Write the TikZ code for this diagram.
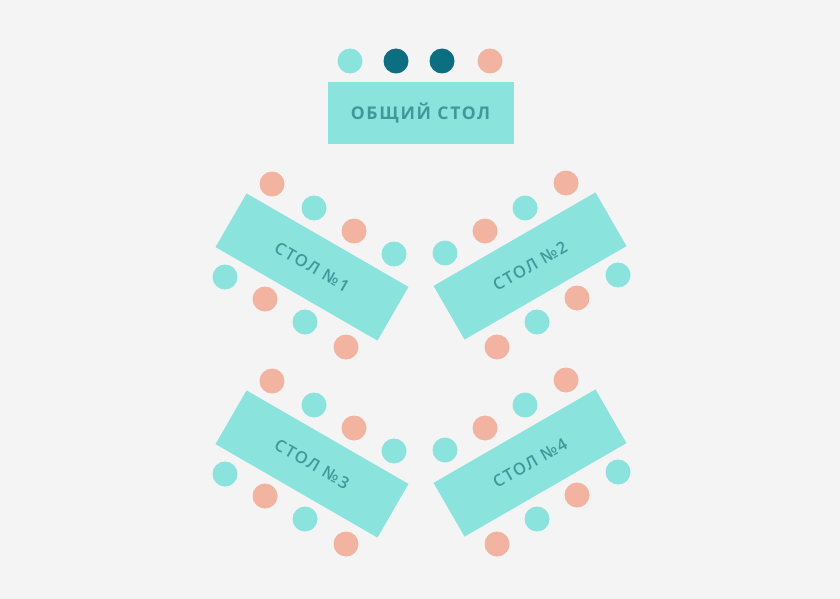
\documentclass[tikz,border=0pt]{standalone}
\usepackage{fontspec}
\setmainfont{Open Sans}
\newfontfamily\titlefont[LetterSpace=10]{Open Sans Bold}
\newfontfamily\labelfont[LetterSpace=10]{Open Sans Semibold}
\definecolor{bgc}{HTML}{F4F4F4}
\definecolor{tablec}{HTML}{8AE3DD}
\definecolor{chairt}{HTML}{8AE3DD}
\definecolor{chairp}{HTML}{F2B4A1}
\definecolor{darkc}{HTML}{0B6E81}
\definecolor{textc}{HTML}{3F9899}
\begin{document}
\begin{tikzpicture}[x=1pt,y=-1pt,
  tablebox/.style={rectangle,fill=tablec,minimum width=187pt,minimum height=62pt,inner sep=0pt,text=textc},
  chairT/.style={circle,fill=chairt,minimum size=25pt,inner sep=0pt},
  chairP/.style={circle,fill=chairp,minimum size=25pt,inner sep=0pt},
  chairD/.style={circle,fill=darkc,minimum size=25pt,inner sep=0pt}]
\fill[bgc] (0,0) rectangle (840,599);
\useasboundingbox (0,0) rectangle (840,599);
% common table
\node[chairT] (c1) at (350,61) {};
\node[chairD] (c2) at (396,61) {};
\node[chairD] (c3) at (442,61) {};
\node[chairP] (c4) at (490,61) {};
\node[tablebox,minimum width=186pt] (common) at (420.5,113) {\fontsize{17.5}{17.5}\titlefont ОБЩИЙ СТОЛ};
% tables 1 and 3
\foreach \dy/\n in {0/1,197/3}{
  \begin{scope}[yshift=-\dy pt]
  \node[tablebox,rotate=-30] (t\n) at (312,267) {\fontsize{16.5}{16.5}\labelfont СТОЛ №\n};
  \node[chairP] (t\n a) at (272,184) {};
  \node[chairT] (t\n b) at (314,208) {};
  \node[chairP] (t\n c) at (354,231) {};
  \node[chairT] (t\n d) at (394,254) {};
  \node[chairT] (t\n e) at (225,277) {};
  \node[chairP] (t\n f) at (265,299) {};
  \node[chairT] (t\n g) at (305,322) {};
  \node[chairP] (t\n h) at (346,347) {};
  \end{scope}
}
% tables 2 and 4
\foreach \dy/\n in {0/2,197/4}{
  \begin{scope}[yshift=-\dy pt]
  \node[tablebox,rotate=30] (t\n) at (530,266) {\fontsize{16.5}{16.5}\labelfont СТОЛ №\n};
  \node[chairP] (t\n a) at (566,183) {};
  \node[chairT] (t\n b) at (525,208) {};
  \node[chairP] (t\n c) at (485,231) {};
  \node[chairT] (t\n d) at (445,253) {};
  \node[chairT] (t\n e) at (618,275) {};
  \node[chairP] (t\n f) at (577,298) {};
  \node[chairT] (t\n g) at (537,322) {};
  \node[chairP] (t\n h) at (497,347) {};
  \end{scope}
}
\end{tikzpicture}
\end{document}
